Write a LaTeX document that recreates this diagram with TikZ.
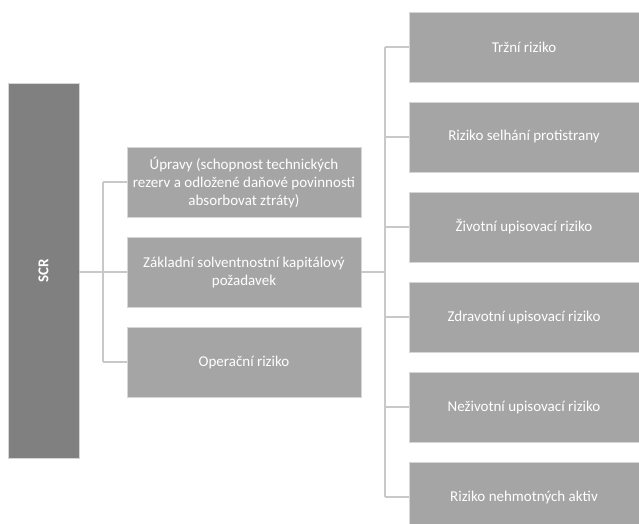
\documentclass[tikz,border=0pt]{standalone}
\usepackage{fontspec}
\setmainfont{Carlito}
\begin{document}
\begin{tikzpicture}[x=1bp,y=-1bp,
  box/.style={fill=boxlight,draw=boxedge,line width=0.8bp,text=white,align=center,
    inner sep=1bp,font=\fontsize{15bp}{18bp}\selectfont},
  rbox/.style={box,minimum width=230bp,minimum height=70bp},
  mbox/.style={box,minimum width=234bp,minimum height=70bp},
  conn/.style={draw=linegray,line width=1.6bp}]
\definecolor{boxlight}{HTML}{A5A5A5}
\definecolor{boxdark}{HTML}{808080}
\definecolor{boxedge}{HTML}{D6D6D6}
\definecolor{linegray}{HTML}{C8C8C8}
\useasboundingbox (0,0) rectangle (639,524);
\clip (0,0) rectangle (639,524);
\node[box,fill=boxdark,minimum width=71bp,minimum height=375bp] (scr) at (43.5,270.5)
  {\rotatebox{90}{\bfseries SCR}};
\node[mbox] (m1) at (244,182) {Úpravy (schopnost technických\\rezerv a odložené daňové povinnosti\\absorbovat ztráty)};
\node[mbox] (m2) at (244,272) {Základní solventnostní kapitálový\\požadavek};
\node[mbox] (m3) at (244,362) {Operační riziko};
\node[rbox] (r1) at (524,47) {Tržní riziko};
\node[rbox] (r2) at (524,137) {Riziko selhání protistrany};
\node[rbox] (r3) at (524,227) {Životní upisovací riziko};
\node[rbox] (r4) at (524,317) {Zdravotní upisovací riziko};
\node[rbox] (r5) at (524,407) {Neživotní upisovací riziko};
\node[rbox] (r6) at (524,497) {Riziko nehmotných aktiv};
\coordinate (ja) at (103,272);
\coordinate (jb) at (385,272);
% left tree
\draw[conn] (scr.east |- ja) -- (ja);
\draw[conn] (ja |- m1.west) -- (ja |- m3.west);
\draw[conn] (ja |- m1.west) -- (m1.west);
\draw[conn] (ja) -- (m2.west);
\draw[conn] (ja |- m3.west) -- (m3.west);
% right tree
\draw[conn] (m2.east) -- (jb);
\draw[conn] (jb |- r1.west) -- (jb |- r6.west);
\foreach \r in {r1,r2,r3,r4,r5,r6} \draw[conn] (jb |- \r.west) -- (\r.west);
\end{tikzpicture}
\end{document}
